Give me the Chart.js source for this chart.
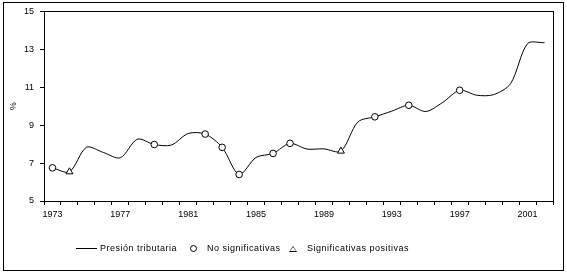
<!DOCTYPE html>
<html>
<head>
<meta charset="utf-8">
<script src="https://cdn.jsdelivr.net/npm/chart.js@4"></script>
<style>
  html, body { margin: 0; padding: 0; background: #fff; }
  body { width: 567px; height: 274px; position: relative; overflow: hidden; font-family: "Liberation Sans", Arial, sans-serif; }
  #marco { position: absolute; left: 3px; top: 2px; width: 559px; height: 267px; border: 1px solid #000; }
  #chart_1 { position: absolute; left: 0; top: 0; }
  .ley { position: absolute; top: 242px; font-size: 9px; letter-spacing: 0.5px; color: #000; white-space: nowrap; line-height: 12px; }
</style>
</head>
<body>
<div id="marco"></div>
<canvas id="chart_1" width="567" height="274"></canvas>
<div class="ley" style="left:76px;"><span style="display:inline-block;width:21px;border-top:1px solid #000;vertical-align:middle;margin-right:3px;"></span>Presión tributaria</div>
<div class="ley" style="left:190px;"><span style="display:inline-block;width:5px;height:5px;border:1px solid #000;border-radius:50%;vertical-align:middle;margin-right:10px;"></span>No significativas</div>
<div class="ley" style="left:289px;"><span style="display:inline-block;width:0;height:0;border-left:4px solid transparent;border-right:4px solid transparent;border-bottom:6px solid #000;position:relative;vertical-align:middle;margin-right:10px;"><span style="position:absolute;left:-3px;top:1.6px;border-left:3px solid transparent;border-right:3px solid transparent;border-bottom:4px solid #fff;"></span></span>Significativas positivas</div>
<script>
// Años de la serie
var anios = [];
for (var a = 1973; a <= 2002; a++) anios.push(String(a));

// Presión tributaria (%)
var presion = [6.75, 6.54, 7.83, 7.56, 7.28, 8.26, 7.98, 7.95, 8.56, 8.53,
               7.83, 6.40, 7.30, 7.51, 8.04, 7.74, 7.75, 7.63, 9.17, 9.44,
               9.74, 10.05, 9.72, 10.2, 10.84, 10.58, 10.61, 11.19, 13.3, 13.35];

// Años marcados
var noSignificativas = ["1973", "1979", "1982", "1983", "1984", "1986", "1987", "1992", "1994", "1997"];
var signifPositivas = ["1974", "1990"];

var ticksY = [5, 7, 9, 11, 13, 15];

function marcar(lista) {
  return anios.map(function(a, i) { return lista.indexOf(a) >= 0 ? presion[i] : null; });
}

// Recuadro del área de trazado
var recuadro = {
  id: 'recuadro',
  afterDraw: function(chart) {
    var c = chart.ctx, a = chart.chartArea;
    c.save();
    c.strokeStyle = '#000';
    c.lineWidth = 1;
    c.strokeRect(Math.round(a.left) + 0.5, Math.round(a.top) + 0.5, Math.round(a.right - a.left), Math.round(a.bottom - a.top));
    c.restore();
  }
};

var fuente = { family: "'Liberation Sans', Arial, sans-serif", size: 9 };

var ctx = document.getElementById('chart_1').getContext('2d');
var chart = new Chart(ctx, {
  type: 'line',
  data: {
    labels: anios,
    datasets: [
      {
        label: 'Presión tributaria',
        data: presion,
        borderColor: '#000',
        borderWidth: 1,
        pointRadius: 0,
        tension: 0.3,
        order: 2
      },
      {
        label: 'No significativas',
        data: marcar(noSignificativas),
        showLine: false,
        pointStyle: 'circle',
        pointRadius: 3.3,
        borderColor: '#000',
        borderWidth: 1,
        backgroundColor: '#fff',
        order: 1
      },
      {
        label: 'Significativas positivas',
        data: marcar(signifPositivas),
        showLine: false,
        pointStyle: 'triangle',
        pointRadius: 4,
        borderColor: '#000',
        borderWidth: 1,
        backgroundColor: '#fff',
        order: 1
      }
    ]
  },
  options: {
    responsive: false,
    animation: false,
    layout: { padding: { left: 4, right: 14, top: 11, bottom: 0 } },
    plugins: { legend: { display: false }, tooltip: { enabled: false } },
    scales: {
      x: {
        type: 'category',
        offset: true,
        grid: { offset: true, drawOnChartArea: false, drawTicks: true, tickLength: 4, color: '#000' },
        border: { color: '#000' },
        ticks: {
          autoSkip: false,
          maxRotation: 0,
          padding: 4,
          color: '#000',
          font: fuente,
          callback: function(v, i) { return i % 4 === 0 ? this.getLabelForValue(v) : ''; }
        },
        afterFit: function(s) { s.height = 73; }
      },
      y: {
        min: 5,
        max: 15,
        afterBuildTicks: function(s) { s.ticks = ticksY.map(function(v) { return { value: v }; }); },
        grid: { drawOnChartArea: false, drawTicks: true, tickLength: 4, color: '#000' },
        border: { color: '#000' },
        ticks: { padding: 6, color: '#000', font: fuente },
        title: { display: true, text: '%', color: '#000', font: fuente, padding: { top: 4, bottom: 0 } },
        afterFit: function(s) { s.width = 40; }
      }
    }
  },
  plugins: [recuadro]
});
</script>
</body>
</html>
